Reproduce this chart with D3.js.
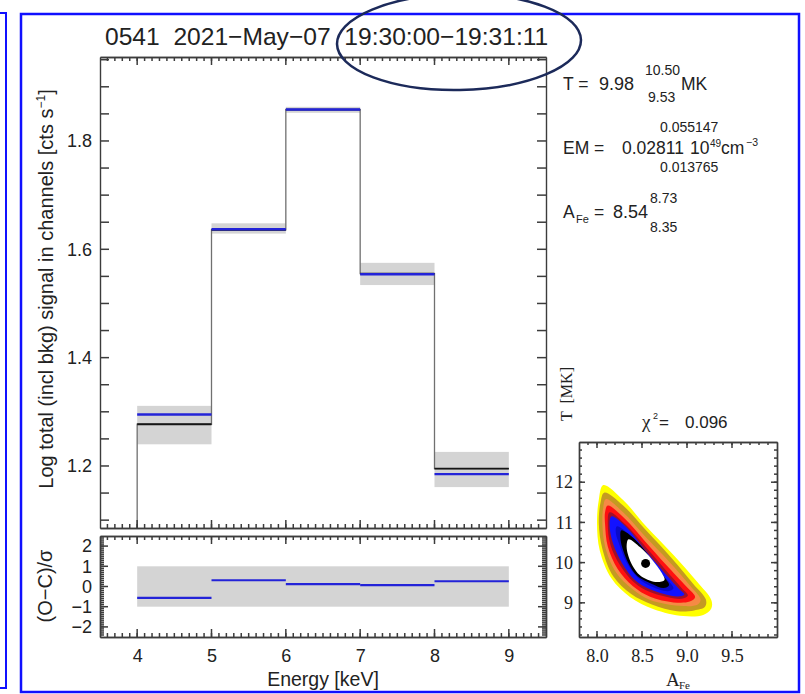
<!DOCTYPE html>
<html><head><meta charset="utf-8">
<script src="https://cdn.jsdelivr.net/npm/d3@7"></script>
<style>
html,body{margin:0;padding:0;background:#fff;}
svg{display:block;}
</style></head><body>
<svg id="chart" width="805" height="694"></svg>
<script>
// ---- Spectrum: channel edges (keV) and log count rates per channel ----
const energyEdges = [4, 5, 6, 7, 8, 9];
const observed    = [1.277, 1.636, 1.858, 1.555, 1.195];
const obsLow      = [1.240, 1.629, 1.852, 1.534, 1.161];
const obsHigh     = [1.311, 1.648, 1.863, 1.575, 1.226];
const model       = [1.295, 1.637, 1.858, 1.554, 1.185];
const residuals   = [-0.56, 0.31, 0.12, 0.07, 0.26];

// ---- Tick labels ----
const mainYLabels  = [1.2, 1.4, 1.6, 1.8];
const residYLabels = [-2, -1, 0, 1, 2];
const energyLabels = [4, 5, 6, 7, 8, 9];
const afeLabels    = [8.0, 8.5, 9.0, 9.5];
const tempLabels   = [9, 10, 11, 12];

// ---- Fit results ----
const fitT   = [9.98, 9.53, 10.50];          // best, low, high (MK)
const fitEM  = ["0.02811", "0.013765", "0.055147"];
const fitAFe = [8.54, 8.35, 8.73];
const chi2   = 0.096;

// ---- Chi-square confidence regions in (A_Fe, T[MK]), outermost first ----
const contourColors = ["#ffff00", "#c49a22", "#f58a45", "#ff1010", "#a0102a",
                       "#1212ff", "#0a0ac8", "#000000", "#ffffff"];
const contourRings = [
  [[8.07,11.93],[8.29,11.56],[8.55,10.89],[8.85,10.19],[9.11,9.53],[9.27,9.07],[9.27,8.86],
   [9.18,8.70],[8.96,8.67],[8.63,8.84],[8.37,9.14],[8.16,9.61],[8.03,10.31],[8.00,10.98],[8.02,11.56]],
  [[8.08,11.74],[8.29,11.42],[8.55,10.79],[8.83,10.11],[9.07,9.47],[9.21,9.08],[9.20,8.90],
   [9.08,8.81],[8.89,8.79],[8.61,8.96],[8.38,9.22],[8.18,9.66],[8.06,10.34],[8.02,10.98],[8.04,11.50]],
  [[8.10,11.58],[8.29,11.25],[8.53,10.66],[8.80,10.03],[9.03,9.44],[9.15,9.09],[9.12,8.96],
   [8.96,8.92],[8.59,9.07],[8.40,9.33],[8.21,9.76],[8.09,10.40],[8.06,10.98],[8.07,11.38]],
  [[8.12,11.42],[8.31,11.09],[8.53,10.54],[8.77,9.94],[8.99,9.41],[9.09,9.14],[9.03,9.03],
   [8.85,9.01],[8.59,9.15],[8.40,9.41],[8.23,9.84],[8.12,10.40],[8.09,10.94],[8.09,11.26]],
  [[8.14,11.25],[8.32,10.94],[8.53,10.42],[8.75,9.85],[8.94,9.37],[9.01,9.18],[8.94,9.10],
   [8.59,9.27],[8.41,9.51],[8.26,9.92],[8.15,10.44],[8.12,10.96]],
  [[8.16,11.15],[8.34,10.85],[8.53,10.32],[8.73,9.80],[8.91,9.35],[8.97,9.21],[8.89,9.16],
   [8.59,9.34],[8.42,9.57],[8.28,9.98],[8.18,10.46],[8.14,10.92]],
  [[8.22,10.90],[8.38,10.65],[8.56,10.17],[8.72,9.72],[8.85,9.36],[8.79,9.29],
   [8.60,9.41],[8.45,9.63],[8.33,10.00],[8.25,10.44],[8.21,10.73]],
  [[8.27,10.80],[8.42,10.58],[8.59,10.13],[8.73,9.69],[8.80,9.44],[8.74,9.37],
   [8.61,9.47],[8.45,9.66],[8.35,9.98],[8.28,10.38],[8.26,10.64]],
  [[8.35,10.58],[8.48,10.38],[8.61,10.08],[8.72,9.74],[8.75,9.57],[8.65,9.52],
   [8.48,9.68],[8.39,9.94],[8.34,10.23],[8.33,10.45]]
];

const SANS = '"Liberation Sans", Arial, Helvetica, sans-serif';
const SERIF = '"Liberation Serif", "Times New Roman", serif';
const axisColor = "#3c3c3c";
const textColor = "#222";

const svg = d3.select("#chart");
svg.append("rect").attr("width", 805).attr("height", 694).attr("fill", "#fff");

// page frames
svg.append("rect").attr("x", -20).attr("y", 13).attr("width", 26).attr("height", 675)
  .attr("fill", "none").attr("stroke", "#1010ff").attr("stroke-width", 2);
svg.append("rect").attr("x", 21).attr("y", 14).attr("width", 778).attr("height", 678)
  .attr("fill", "none").attr("stroke", "#1010ff").attr("stroke-width", 2.5);

// ---- scales ----
const x     = d3.scaleLinear().domain([3.5, 9.5]).range([100, 546]);
const yMain = d3.scaleLinear().domain([1.0855, 1.955]).range([528, 57]);
const yRes  = d3.scaleLinear().domain([-2.5, 2.5]).range([637, 536]);
const xA    = d3.scaleLinear().domain([7.8, 10.0]).range([579, 777]);
const yT    = d3.scaleLinear().domain([8.15, 13.0]).range([637, 442]);

const steps = (a, b, s) => d3.range(Math.round(a / s), Math.round(b / s) + 1).map(i => +(i * s).toFixed(4));

// frame side: d3 axis for the edge line and labels, with inward tick marks
function axis(gen, scale, tx, ty, values, size, labels, fmt, pad, family, fsize) {
  const vertical = (gen === d3.axisLeft || gen === d3.axisRight);
  const dir = (gen === d3.axisLeft || gen === d3.axisTop) ? 1 : -1;
  const a = gen(scale).tickValues(labels || []).tickSize(0).tickPadding(pad || 8)
    .tickFormat(fmt || (() => ""));
  const g = svg.append("g").attr("transform", `translate(${tx},${ty})`).call(a);
  g.attr("font-size", fsize || 18).attr("font-family", family || SANS);
  g.select(".domain").attr("stroke", axisColor).attr("stroke-width", 1.4);
  g.selectAll("text").attr("fill", textColor);

  const marks = svg.append("g").attr("stroke", axisColor).attr("stroke-width", 1.5);
  values.forEach(v => {
    const p = scale(v);
    marks.append("line")
      .attr("x1", vertical ? tx : p).attr("y1", vertical ? p : ty)
      .attr("x2", vertical ? tx + dir * size : p).attr("y2", vertical ? p : ty + dir * size);
  });
  return g;
}

// ================= main spectrum panel =================
svg.append("clipPath").attr("id", "clipMain").append("rect")
  .attr("x", 100).attr("y", 57).attr("width", 446).attr("height", 471);
const gMain = svg.append("g").attr("clip-path", "url(#clipMain)");

const bins = d3.range(observed.length);
gMain.selectAll("rect.err").data(bins).join("rect").attr("class", "err")
  .attr("x", i => x(energyEdges[i])).attr("width", i => x(energyEdges[i + 1]) - x(energyEdges[i]))
  .attr("y", i => yMain(obsHigh[i])).attr("height", i => yMain(obsLow[i]) - yMain(obsHigh[i]))
  .attr("fill", "#d4d4d4");

const stepPts = [[energyEdges[0], yMain.domain()[0]]];
bins.forEach(i => { stepPts.push([energyEdges[i], observed[i]]); stepPts.push([energyEdges[i + 1], observed[i]]); });
gMain.append("path").datum(stepPts)
  .attr("d", d3.line().x(d => x(d[0])).y(d => yMain(d[1])))
  .attr("fill", "none").attr("stroke", "#707070").attr("stroke-width", 1.3);

gMain.selectAll("line.obs").data(bins).join("line").attr("class", "obs")
  .attr("x1", i => x(energyEdges[i])).attr("x2", i => x(energyEdges[i + 1]))
  .attr("y1", i => yMain(observed[i])).attr("y2", i => yMain(observed[i]))
  .attr("stroke", "#151515").attr("stroke-width", 1.8);
gMain.selectAll("line.mod").data(bins).join("line").attr("class", "mod")
  .attr("x1", i => x(energyEdges[i])).attr("x2", i => x(energyEdges[i + 1]))
  .attr("y1", i => yMain(model[i])).attr("y2", i => yMain(model[i]))
  .attr("stroke", "#2323d8").attr("stroke-width", 2.4);

const f1 = d3.format(".1f");
axis(d3.axisLeft,  yMain, 100, 0, steps(1.1, 1.95, 0.05), 9, mainYLabels, f1, 8);
axis(d3.axisRight, yMain, 546, 0, steps(1.1, 1.95, 0.05), 9);
axis(d3.axisBottom, x, 0, 528, steps(3.6, 9.4, 0.1), 4);
axis(d3.axisBottom, x, 0, 528, energyLabels, 8);
axis(d3.axisTop, x, 0, 57, steps(3.6, 9.4, 0.1), 4);
axis(d3.axisTop, x, 0, 57, energyLabels, 8);

// ================= residual panel =================
const gRes = svg.append("g");
gRes.append("rect")
  .attr("x", x(energyEdges[0])).attr("width", x(energyEdges[energyEdges.length - 1]) - x(energyEdges[0]))
  .attr("y", yRes(1)).attr("height", yRes(-1) - yRes(1)).attr("fill", "#d4d4d4");
gRes.selectAll("line.res").data(bins).join("line").attr("class", "res")
  .attr("x1", i => x(energyEdges[i])).attr("x2", i => x(energyEdges[i + 1]))
  .attr("y1", i => yRes(residuals[i])).attr("y2", i => yRes(residuals[i]))
  .attr("stroke", "#2323d8").attr("stroke-width", 2.2);

const fInt = d3.format("d");
axis(d3.axisLeft,  yRes, 100, 0, steps(-2.4, 2.4, 0.1), 4);
axis(d3.axisLeft,  yRes, 100, 0, residYLabels, 8, residYLabels, fInt, 8);
axis(d3.axisRight, yRes, 546, 0, steps(-2.4, 2.4, 0.1), 4);
axis(d3.axisRight, yRes, 546, 0, residYLabels, 8);
axis(d3.axisBottom, x, 0, 637, steps(3.6, 9.4, 0.1), 4);
axis(d3.axisBottom, x, 0, 637, energyLabels, 8, energyLabels, fInt, 12);
axis(d3.axisTop, x, 0, 536, steps(3.6, 9.4, 0.1), 4);
axis(d3.axisTop, x, 0, 536, energyLabels, 8);

// ================= chi-square map =================
svg.append("clipPath").attr("id", "clipMap").append("rect")
  .attr("x", 579).attr("y", 442).attr("width", 198).attr("height", 195);
const gMap = svg.append("g").attr("clip-path", "url(#clipMap)");
const ringLine = d3.line().x(d => xA(d[0])).y(d => yT(d[1])).curve(d3.curveCatmullRomClosed.alpha(0.5));
gMap.selectAll("path.ring").data(contourRings).join("path").attr("class", "ring")
  .attr("d", ringLine).attr("fill", (d, i) => contourColors[i]).attr("stroke", "none");
gMap.append("circle").attr("cx", xA(fitAFe[0])).attr("cy", yT(fitT[0])).attr("r", 4.5).attr("fill", "#000");

axis(d3.axisLeft, yT, 579, 0, steps(8.2, 12.8, 0.2), 3);
axis(d3.axisLeft, yT, 579, 0, tempLabels, 6, tempLabels, fInt, 6, SERIF, 18);
axis(d3.axisRight, yT, 777, 0, steps(8.2, 12.8, 0.2), 3);
axis(d3.axisRight, yT, 777, 0, tempLabels, 6);
axis(d3.axisBottom, xA, 0, 637, steps(7.9, 9.9, 0.1), 3);
axis(d3.axisBottom, xA, 0, 637, afeLabels, 6, afeLabels, f1, 12, SERIF, 18);
axis(d3.axisTop, xA, 0, 442, steps(7.9, 9.9, 0.1), 3);
axis(d3.axisTop, xA, 0, 442, afeLabels, 6);

// ================= text =================
function txt(s, px, py, size, opts = {}) {
  const t = svg.append("text").attr("x", px).attr("y", py).attr("font-size", size)
    .attr("font-family", opts.family || SANS).attr("fill", textColor)
    .style("white-space", "pre").text(s);
  if (opts.anchor) t.attr("text-anchor", opts.anchor);
  return t;
}

// title and its highlight
txt("0541  2021\u2212May\u221207  19:30:00\u221219:31:11", 105, 45, 24.6);
svg.append("ellipse").attr("cx", 459).attr("cy", 42).attr("rx", 122).attr("ry", 48)
  .attr("transform", "rotate(-1 459 42)")
  .attr("fill", "none").attr("stroke", "#1c2a5a").attr("stroke-width", 2.5);

// axis titles
const yl = svg.append("text").attr("transform", "translate(53,289) rotate(-90)")
  .attr("text-anchor", "middle").attr("font-size", 20).attr("font-family", SANS).attr("fill", textColor);
yl.append("tspan").text("Log total (incl bkg) signal in channels [cts s");
yl.append("tspan").attr("font-size", 12).attr("dy", -8).text("\u22121");
yl.append("tspan").attr("dy", 8).text("]");

svg.append("text").attr("transform", "translate(52,586) rotate(-90)")
  .attr("text-anchor", "middle").attr("font-size", 20).attr("font-family", SANS).attr("fill", textColor)
  .text("(O\u2212C)/\u03c3");
txt("Energy [keV]", 323, 686, 19.5, { anchor: "middle" });

// fit parameters
txt("T =", 563, 90, 17.5);
txt(fitT[0].toFixed(2), 599, 90, 18);
txt(fitT[2].toFixed(2), 645, 75, 14);
txt(fitT[1].toFixed(2), 648, 102, 14);
txt("MK", 681, 90, 17.5);

txt("EM =", 563, 154, 17.5);
txt(fitEM[0], 622, 154, 17.5);
txt(fitEM[2], 660, 132, 14);
txt(fitEM[1], 660, 172, 14);
txt("10", 690, 154, 17.5);
txt("49", 710, 147, 10);
txt("cm", 721, 154, 17.5);
txt("\u22123", 746, 146, 10.5);

txt("A", 563, 218, 17.5);
txt("Fe", 576, 223, 11);
txt("=", 594, 218, 17.5);
txt(fitAFe[0].toFixed(2), 613, 218, 18);
txt(fitAFe[2].toFixed(2), 650, 203, 14);
txt(fitAFe[1].toFixed(2), 650, 232, 14);

// chi-square map titles
txt("\u03c7", 642, 428, 19, { family: SERIF });
txt("2", 653, 419, 9);
txt("=", 659, 428, 17);
txt(chi2.toFixed(3), 685, 428, 17);
svg.append("text").attr("transform", "translate(572,394) rotate(-90)")
  .attr("text-anchor", "middle").attr("font-size", 16).attr("font-family", SERIF).attr("fill", textColor)
  .style("white-space", "pre").text("T  [MK]");
txt("A", 666, 686, 19, { family: SERIF });
txt("Fe", 679, 689, 11, { family: SERIF });
</script>
</body></html>
